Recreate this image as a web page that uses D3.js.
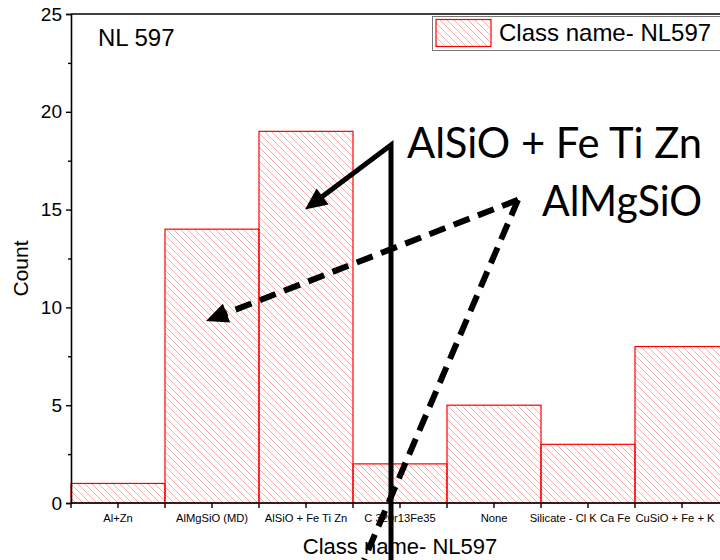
<!DOCTYPE html>
<html>
<head>
<meta charset="utf-8">
<script src="https://cdn.jsdelivr.net/npm/d3@7"></script>
<style>
  html, body { margin: 0; padding: 0; background: #fff; }
  svg { display: block; }
</style>
</head>
<body>
<svg id="chart" width="720" height="560"></svg>
<script>
// Class counts for sample NL 597
const categories = ["Al+Zn", "AlMgSiO (MD)", "AlSiO + Fe Ti Zn", "C 320r13Fe35", "None", "Silicate - Cl K Ca Fe", "CuSiO + Fe + K"];
const counts = [1, 14, 19, 2, 5, 3, 8];
const yTicks = [0, 5, 10, 15, 20, 25];
const yMinorTicks = [2.5, 7.5, 12.5, 17.5, 22.5];
const seriesName = "Class name- NL597";

(function () {
const svg = d3.select("#chart");
const W = 720, H = 560;
const plotLeft = 71, plotTop = 14, plotBottom = 503, bandW = 94;

const x = d3.scaleBand().domain(categories).range([plotLeft, plotLeft + bandW * categories.length]).padding(0);
const y = d3.scaleLinear().domain([0, 25]).range([plotBottom, plotTop]);

// diagonal hatch fill
const defs = svg.append("defs");
const pat = defs.append("pattern").attr("id", "hatch")
  .attr("patternUnits", "userSpaceOnUse").attr("width", 7).attr("height", 7);
pat.append("path").attr("d", "M-1,6 l2,2 M0,0 l7,7 M6,-1 l2,2")
  .attr("stroke", "#ffa0a0").attr("stroke-width", 0.9).attr("fill", "none");

// bars
svg.append("g").selectAll("rect").data(categories).join("rect")
  .attr("x", d => x(d))
  .attr("y", (d, i) => y(counts[i]))
  .attr("width", x.bandwidth())
  .attr("height", (d, i) => y(0) - y(counts[i]))
  .attr("fill", "url(#hatch)")
  .attr("stroke", "#ff0000").attr("stroke-width", 1.2);

// frame
svg.append("line").attr("x1", plotLeft).attr("x2", W).attr("y1", plotTop).attr("y2", plotTop)
  .attr("stroke", "#000").attr("stroke-width", 1.6);

// y axis
const yAxis = svg.append("g").attr("transform", `translate(${plotLeft},0)`)
  .call(d3.axisLeft(y).tickValues(yTicks).tickSize(5).tickPadding(4).tickFormat(d3.format("d")));
yAxis.select(".domain").attr("stroke-width", 1.6);
yAxis.selectAll(".tick line").attr("stroke-width", 1.4);
yAxis.selectAll(".tick text").attr("font-family", "Liberation Sans, Arial, sans-serif").attr("font-size", 19).attr("fill", "#000");
svg.append("g").attr("transform", `translate(${plotLeft},0)`)
  .call(d3.axisLeft(y).tickValues(yMinorTicks).tickSize(3).tickFormat(""))
  .call(g => g.select(".domain").remove())
  .selectAll(".tick line").attr("stroke-width", 1.4);

// x axis: labels at band centres, ticks at every half band
const labelShift = { "Silicate - Cl K Ca Fe": -8, "CuSiO + Fe + K": -7 };
const xAxis = svg.append("g").attr("transform", `translate(0,${plotBottom})`)
  .call(d3.axisBottom(x).tickSize(5).tickPadding(6));
xAxis.select(".domain").attr("d", `M${plotLeft},0H${W}`).attr("stroke-width", 1.6);
xAxis.selectAll(".tick line").attr("stroke-width", 1.4);
xAxis.selectAll(".tick text").attr("font-family", "Liberation Sans, Arial, sans-serif").attr("font-size", 11.2).attr("fill", "#000")
  .attr("dx", d => labelShift[d] || 0);
svg.append("g").selectAll("line").data(categories).join("line")
  .attr("x1", d => x(d)).attr("x2", d => x(d))
  .attr("y1", plotBottom).attr("y2", plotBottom + 5)
  .attr("stroke", "#000").attr("stroke-width", 1.4);

// axis titles
svg.append("text").attr("transform", `translate(28,${(plotTop + plotBottom) / 2 + 10}) rotate(-90)`)
  .attr("text-anchor", "middle").attr("font-family", "Liberation Sans, Arial, sans-serif")
  .attr("font-size", 21).text("Count");
svg.append("text").attr("x", x(categories[3]) + bandW / 2).attr("y", 554)
  .attr("text-anchor", "middle").attr("font-family", "Liberation Sans, Arial, sans-serif")
  .attr("font-size", 22).text(seriesName);

// sample label
svg.append("text").attr("x", 98).attr("y", 46)
  .attr("font-family", "Liberation Sans, Arial, sans-serif").attr("font-size", 24).text("NL 597");

// legend
const lg = svg.append("g");
lg.append("rect").attr("x", 432.5).attr("y", 16.5).attr("width", 300).attr("height", 34)
  .attr("fill", "#fff").attr("stroke", "#777").attr("stroke-width", 1);
lg.append("rect").attr("x", 436).attr("y", 19.5).attr("width", 55).attr("height", 27)
  .attr("fill", "url(#hatch)").attr("stroke", "#ff0000").attr("stroke-width", 1.2);
lg.append("text").attr("x", 499).attr("y", 41)
  .attr("font-family", "Liberation Sans, Arial, sans-serif").attr("font-size", 24).text(seriesName);

// annotations
function arrowHead(g, from, to, len, half) {
  const dx = to[0] - from[0], dy = to[1] - from[1];
  const L = Math.hypot(dx, dy), ux = dx / L, uy = dy / L;
  const bx = to[0] - ux * len, by = to[1] - uy * len;
  g.append("path")
    .attr("d", `M${to[0]},${to[1]}L${bx - uy * half},${by + ux * half}L${bx + uy * half},${by - ux * half}Z`)
    .attr("fill", "#000");
  return [bx + ux * 2, by + uy * 2];
}
const ann = svg.append("g");

// solid: AlSiO + Fe Ti Zn
const solidApex = [x(categories[3]) + 38, y(18.3)];
const solidTip = [x(categories[2]) + bandW / 2 - 1, y(15)];
const solidEnd = arrowHead(ann, solidApex, solidTip, 22, 10);
ann.append("path")
  .attr("d", `M${solidEnd[0]},${solidEnd[1]}L${solidApex[0]},${solidApex[1]}L${solidApex[0]},${H + 10}`)
  .attr("fill", "none").attr("stroke", "#000").attr("stroke-width", 5).attr("stroke-linejoin", "miter");

// dashed: AlMgSiO
const dashApex = [518, y(15.5)];
const dashTip = [x(categories[1]) + bandW / 2 - 6, y(9.3)];
const dashEnd = arrowHead(ann, dashApex, dashTip, 22, 10);
const dashLow = [364, H];
ann.append("path")
  .attr("d", `M${dashApex[0]},${dashApex[1]}L${dashEnd[0]},${dashEnd[1]}`)
  .attr("fill", "none").attr("stroke", "#000").attr("stroke-width", 6).attr("stroke-dasharray", "17,9");
ann.append("path")
  .attr("d", `M${dashApex[0]},${dashApex[1]}L${dashLow[0]},${dashLow[1]}`)
  .attr("fill", "none").attr("stroke", "#000").attr("stroke-width", 6).attr("stroke-dasharray", "17,9");

ann.append("text").attr("x", 407).attr("y", 158)
  .attr("font-family", "Lato, Open Sans, sans-serif").attr("font-size", 42)
  .attr("textLength", 295).attr("lengthAdjust", "spacingAndGlyphs").text("AlSiO + Fe Ti Zn");
ann.append("text").attr("x", 542).attr("y", 216)
  .attr("font-family", "Lato, Open Sans, sans-serif").attr("font-size", 42)
  .attr("textLength", 160).attr("lengthAdjust", "spacingAndGlyphs").text("AlMgSiO");
})();
</script>
</body>
</html>
